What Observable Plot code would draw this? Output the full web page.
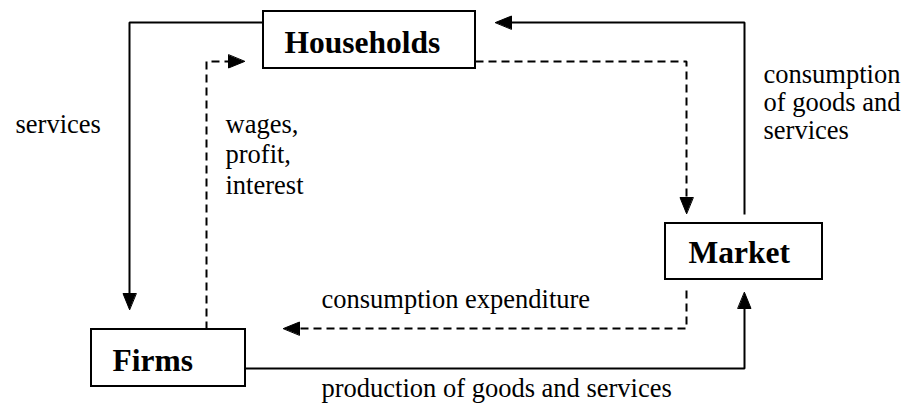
<!DOCTYPE html>
<html><head><meta charset="utf-8">
<script src="https://cdn.jsdelivr.net/npm/d3@7"></script>
<script src="https://cdn.jsdelivr.net/npm/@observablehq/plot@0.6"></script>
<style>body{margin:0;background:#fff}</style>
</head><body><div id="chart"></div>
<script>
// ---- data: the circular-flow diagram ----
const nodes = ["Households", "Firms", "Market"];
const flowFrom  = ["Households", "Firms", "Households", "Market", "Market", "Firms"];
const flowTo    = ["Firms", "Households", "Market", "Households", "Firms", "Market"];
const flowKind  = ["real", "money", "money", "real", "money", "real"];
const flowLabel = ["services", "wages,\nprofit,\ninterest", "", "consumption\nof goods and\nservices", "consumption expenditure", "production of goods and services"];

// ---- layout (diagram geometry, pixel-like units) ----
const boxLayout = {
  Households: {x1: 263, x2: 475, y1: 11, y2: 68, tx: 284, ty: 52},
  Firms:      {x1: 91,  x2: 245, y1: 329, y2: 386, tx: 112, ty: 370},
  Market:     {x1: 665, x2: 822, y1: 223, y2: 279, tx: 688, ty: 262}
};
const routes = [
  [[263, 22], [129, 22], [129, 309]],
  [[206, 329], [206, 61], [244, 61]],
  [[475, 61], [686, 61], [686, 213]],
  [[744, 214], [744, 22], [495, 22]],
  [[686, 290], [686, 328], [283, 328]],
  [[245, 368], [744, 368], [744, 292]]
];
const labelLayout = [
  {x: 15, y: 132, lh: 1},
  {x: 225, y: 193, lh: 1.15},
  null,
  {x: 763, y: 138, lh: 1.04},
  {x: 321, y: 307, lh: 1},
  {x: 321, y: 396, lh: 1}
];
const headLen = 16, headWidth = 13;

// ---- build mark data ----
const boxes = nodes.map(n => ({name: n, ...boxLayout[n]}));
const linePts = [], headPts = [];
routes.forEach((r, i) => {
  const T = r[r.length - 1], P = r[r.length - 2];
  const dx = T[0] - P[0], dy = T[1] - P[1], d = Math.hypot(dx, dy);
  const ux = dx / d, uy = dy / d;
  const bx = T[0] - ux * (headLen - 2), by = T[1] - uy * (headLen - 2);
  r.slice(0, -1).forEach(p => linePts.push({id: i, kind: flowKind[i], x: p[0], y: p[1]}));
  linePts.push({id: i, kind: flowKind[i], x: bx, y: by});
  const Bx = T[0] - ux * headLen, By = T[1] - uy * headLen;
  const px = -uy, py = ux;
  headPts.push({id: i, x: T[0], y: T[1]});
  headPts.push({id: i, x: Bx + px * headWidth / 2, y: By + py * headWidth / 2});
  headPts.push({id: i, x: Bx - px * headWidth / 2, y: By - py * headWidth / 2});
});
const labels = flowLabel.map((t, i) => ({text: t, ...(labelLayout[i] || {})})).filter(d => d.text);

const font = "Liberation Serif";
const textMarks = labels.map(d => Plot.text([d], {
  x: "x", y: "y", text: "text", textAnchor: "start", lineAnchor: "bottom",
  lineHeight: d.lh, fontSize: 26.5, fontFamily: font, fill: "black"
}));

const chart = Plot.plot({
  width: 902, height: 408, margin: 0,
  x: {domain: [0, 902], range: [0, 902], axis: null},
  y: {domain: [0, 408], range: [0, 408], axis: null},
  style: {background: "white", overflow: "visible", fontFamily: font},
  marks: [
    Plot.line(linePts.filter(d => d.kind === "real"), {x: "x", y: "y", z: "id", stroke: "black", strokeWidth: 2, strokeLinejoin: "miter", strokeLinecap: "butt"}),
    Plot.line(linePts.filter(d => d.kind === "money"), {x: "x", y: "y", z: "id", stroke: "black", strokeWidth: 2, strokeDasharray: "8,5", strokeLinejoin: "miter", strokeLinecap: "butt"}),
    Plot.line(headPts, {x: "x", y: "y", z: "id", fill: "black", stroke: "black", strokeWidth: 1, curve: "linear-closed"}),
    Plot.rect(boxes, {x1: "x1", x2: "x2", y1: "y1", y2: "y2", fill: "white", stroke: "black", strokeWidth: 2}),
    Plot.text(boxes, {x: "tx", y: "ty", text: "name", textAnchor: "start", lineAnchor: "bottom", fontSize: 31.5, fontWeight: "bold", fontFamily: font, fill: "black"}),
    ...textMarks
  ]
});
document.getElementById("chart").appendChild(chart);
</script>
</body></html>
